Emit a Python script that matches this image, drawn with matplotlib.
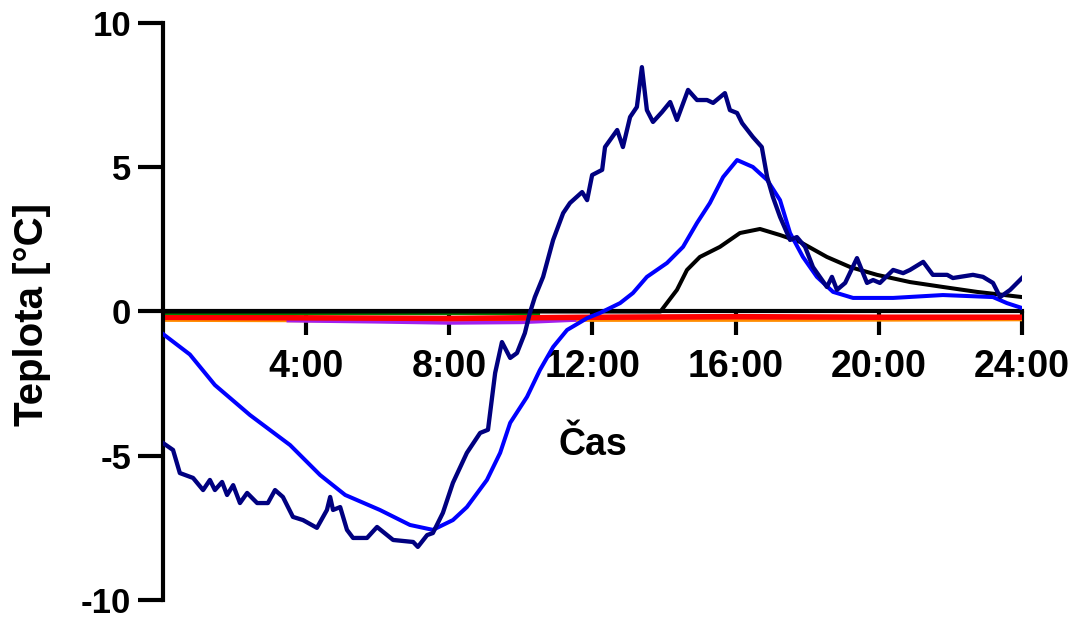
import matplotlib
matplotlib.use("Agg")
import matplotlib.pyplot as plt
import numpy as np

plt.rcParams['font.family'] = ['Liberation Sans', 'DejaVu Sans']
plt.rcParams['font.weight'] = 'bold'
plt.rcParams['axes.unicode_minus'] = False

# hours (0-24) and temperatures
navy_h = [0.0, 0.28, 0.47, 0.84, 1.12, 1.31, 1.45, 1.65, 1.79, 1.96, 2.15, 2.35,
          2.63, 2.93, 3.13, 3.35, 3.63, 3.91, 4.30, 4.58, 4.67, 4.75, 4.95, 5.14,
          5.31, 5.70, 5.98, 6.43, 6.99, 7.12, 7.38, 7.54, 7.82, 8.10, 8.49, 8.86,
          9.08, 9.28, 9.47, 9.70, 9.89, 10.11, 10.25, 10.39, 10.62, 10.90, 11.18,
          11.37, 11.71, 11.85, 11.99, 12.27, 12.35, 12.69, 12.85, 13.05, 13.24,
          13.38, 13.52, 13.69, 13.94, 14.17, 14.36, 14.67, 14.92, 15.20, 15.37,
          15.70, 15.84, 16.04, 16.18, 16.48, 16.73, 16.88, 17.04, 17.24, 17.52,
          17.71, 17.94, 18.16, 18.55, 18.69, 18.83, 19.06, 19.39, 19.67, 19.84,
          20.03, 20.40, 20.68, 20.87, 21.24, 21.51, 21.91, 22.07, 22.27, 22.63,
          22.91, 23.19, 23.39, 23.67, 24.0]
navy_t = [-4.56, -4.80, -5.60, -5.77, -6.19, -5.84, -6.19, -5.91, -6.36, -6.02,
          -6.64, -6.29, -6.64, -6.64, -6.19, -6.43, -7.12, -7.23, -7.50, -6.88,
          -6.43, -6.88, -6.78, -7.57, -7.85, -7.85, -7.47, -7.92, -7.99, -8.16,
          -7.75, -7.68, -6.98, -5.94, -4.90, -4.21, -4.10, -2.13, -1.06, -1.61,
          -1.44, -0.75, -0.05, 0.50, 1.20, 2.48, 3.41, 3.76, 4.14, 3.86, 4.73,
          4.91, 5.70, 6.29, 5.70, 6.74, 7.09, 8.47, 6.98, 6.57, 6.91, 7.26, 6.64,
          7.68, 7.33, 7.33, 7.23, 7.57, 6.98, 6.88, 6.53, 6.05, 5.70, 4.66, 3.97,
          3.28, 2.48, 2.58, 2.24, 1.54, 0.85, 1.20, 0.75, 0.99, 1.85, 0.99, 1.09,
          0.99, 1.44, 1.33, 1.44, 1.72, 1.27, 1.27, 1.16, 1.20, 1.27, 1.20, 0.99,
          0.50, 0.75, 1.16]

blue_h = [0.0, 0.75, 1.45, 2.43, 3.55, 4.39, 5.09, 6.06, 6.90, 7.54, 8.10, 8.49,
          9.05, 9.42, 9.70, 10.17, 10.53, 10.90, 11.29, 11.85, 12.21, 12.77,
          13.13, 13.52, 14.08, 14.53, 14.92, 15.28, 15.65, 16.04, 16.48, 16.88,
          17.24, 17.52, 17.88, 18.27, 18.72, 19.28, 20.40, 21.79, 23.19, 23.58,
          24.0]
blue_t = [-0.78, -1.49, -2.55, -3.59, -4.63, -5.67, -6.36, -6.88, -7.40, -7.57,
          -7.23, -6.78, -5.84, -4.90, -3.86, -2.96, -2.03, -1.23, -0.64, -0.23,
          -0.05, 0.29, 0.64, 1.20, 1.68, 2.24, 3.07, 3.76, 4.66, 5.25, 5.01, 4.56,
          3.86, 2.72, 1.89, 1.20, 0.68, 0.47, 0.47, 0.57, 0.50, 0.29, 0.12]

black_h = [0.0, 13.9, 14.36, 14.64, 15.0, 15.56, 16.12, 16.68, 17.24, 17.80,
           18.55, 19.20, 19.95, 20.87, 21.79, 22.74, 24.0]
black_t = [0.0, 0.0, 0.75, 1.44, 1.89, 2.24, 2.72, 2.86, 2.65, 2.41, 1.89, 1.54,
           1.27, 1.02, 0.85, 0.68, 0.50]

green_h = [0.0, 10.5]
green_t = [-0.07, -0.07]
red_h = [0.0, 4.0, 8.0, 12.0, 16.0, 20.0, 24.0]
red_t = [-0.2, -0.22, -0.24, -0.2, -0.18, -0.2, -0.2]
orange_h = [0.0, 6.0, 12.0, 18.0, 24.0]
orange_t = [-0.3, -0.32, -0.3, -0.3, -0.28]
purple_h = [3.5, 6.0, 8.0, 10.0, 11.5]
purple_t = [-0.32, -0.36, -0.4, -0.38, -0.3]

xticks = [4, 8, 12, 16, 20, 24]
xtick_labels = ['4:00', '8:00', '12:00', '16:00', '20:00', '24:00']
yticks = [-10, -5, 0, 5, 10]

fig = plt.figure(figsize=(10.81, 6.2), dpi=100)
ax = fig.add_axes([0.1508, 0.0323, 0.7946, 0.9306])

ax.plot(orange_h, orange_t, color='#ff8c00', lw=2.5, zorder=2)
ax.plot(purple_h, purple_t, color='#a020f0', lw=2.5, zorder=2)
ax.plot(red_h, red_t, color='#ff0000', lw=4, zorder=3)
ax.plot(green_h, green_t, color='#008000', lw=1.5, zorder=3)
ax.plot(black_h, black_t, color='black', lw=2.9, zorder=4)
ax.plot(blue_h, blue_t, color='#0000ff', lw=2.9, zorder=5)
ax.plot(navy_h, navy_t, color='#000080', lw=3.1, zorder=6)

ax.set_xlim(0, 24)
ax.set_ylim(-10, 10)
ax.spines['top'].set_visible(False)
ax.spines['right'].set_visible(False)
ax.spines['bottom'].set_position(('data', 0))
for s in ('left', 'bottom'):
    ax.spines[s].set_linewidth(3)
    ax.spines[s].set_zorder(3.5)

ax.set_xticks(xticks)
ax.set_xticklabels(xtick_labels)
ax.set_yticks(yticks)
ax.tick_params(axis='x', length=17, width=3, labelsize=27, pad=10)
ax.tick_params(axis='y', length=18, width=3, labelsize=25, pad=5)

ax.set_xlabel('Čas', fontsize=27, fontweight='bold')
ax.xaxis.set_label_coords(0.5, 0.30)
ax.set_ylabel('Teplota [°C]', fontsize=29, fontweight='bold')
ax.yaxis.set_label_coords(-0.13, 0.495)

fig.savefig('out.png', dpi=100)
